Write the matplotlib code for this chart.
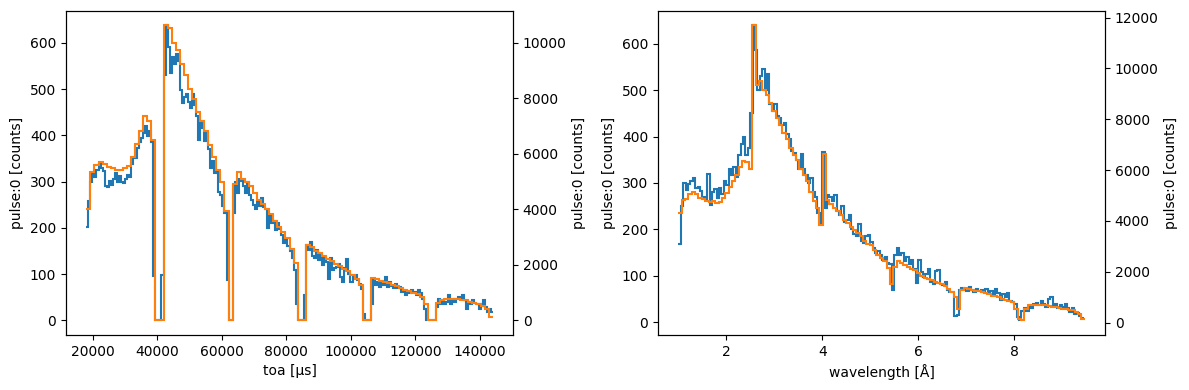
import numpy as np
import matplotlib
matplotlib.use("Agg")
import matplotlib.pyplot as plt

# ---- left panel: time of arrival ----
toa_range = (18000, 144000)

# pulse:0 counts, fine binning (left axis)
toa_counts = [
    201, 258, 300, 318, 310, 325, 338, 330, 322, 290,
    288, 302, 292, 305, 318, 300, 312, 298, 296, 305,
    315, 310, 338, 352, 350, 372, 385, 395, 405, 420,
    398, 410, 385, 95, 0, 0, 0, 97, 530, 638,
    592, 535, 570, 555, 575, 560, 498, 470, 482, 489,
    471, 460, 490, 465, 442, 390, 430, 415, 388, 406,
    371, 330, 345, 318, 322, 278, 270, 248, 232, 86,
    0, 0, 232, 300, 276, 306, 302, 290, 276, 298,
    270, 260, 250, 240, 258, 248, 265, 245, 241, 200,
    228, 210, 215, 195, 210, 198, 184, 168, 173, 160,
    150, 135, 108, 36, 0, 0, 0, 54, 162, 151,
    169, 140, 134, 151, 130, 143, 119, 137, 125, 90,
    134, 108, 112, 115, 122, 93, 83, 112, 133, 101,
    83, 93, 97, 88, 79, 68, 14, 0, 0, 0,
    36, 90, 77, 83, 72, 83, 76, 93, 72, 83,
    75, 70, 79, 69, 72, 61, 65, 54, 62, 58,
    65, 61, 54, 65, 58, 47, 25, 0, 0, 0,
    0, 0, 29, 47, 36, 43, 36, 40, 54, 36,
    47, 40, 45, 50, 47, 54, 43, 25, 40, 36,
    43, 38, 36, 25, 36, 43, 29, 18, 25, 18,
]

# pulse:0 counts, coarse binning (right axis)
toa_counts_coarse = [
    4000, 5330, 5600, 5700, 5630, 5520, 5470, 5430, 5400, 5470,
    5550, 5870, 6350, 6830, 7370, 7170, 6500, 0, 0, 10630,
    10530, 10000, 9750, 9250, 8830, 8330, 7970, 7500, 7170, 6830,
    6300, 5870, 5420, 4970, 3950, 0, 4920, 5330, 5080, 4970,
    4830, 4580, 4330, 4200, 4000, 3830, 3580, 3370, 3170, 2970,
    2580, 2050, 0, 0, 2700, 2630, 2500, 2430, 2330, 2220,
    2120, 2030, 1950, 1830, 1770, 1630, 1470, 1270, 0, 0,
    1530, 1500, 1430, 1380, 1330, 1280, 1220, 1170, 1100, 1050,
    1000, 930, 830, 580, 0, 0, 630, 730, 770, 780,
    770, 750, 730, 720, 670, 620, 580, 520, 420, 130,
]

# ---- right panel: wavelength ----
wav_range_fine = (1.0, 9.45)
wav_range_coarse = (1.0, 9.47)

wav_counts = [
    169, 250, 300, 285, 298, 305, 310, 290, 292, 282,
    270, 265, 320, 253, 280, 288, 268, 290, 276, 305,
    296, 330, 318, 335, 312, 360, 385, 400, 360, 375,
    450, 640, 587, 500, 530, 545, 500, 535, 470, 455,
    470, 445, 440, 425, 430, 405, 395, 370, 365, 350,
    330, 363, 330, 318, 300, 310, 280, 270, 235, 213,
    367, 245, 275, 270, 262, 275, 240, 232, 250, 215,
    220, 231, 200, 190, 185, 212, 175, 170, 185, 188,
    172, 160, 150, 153, 145, 135, 140, 128, 125, 69,
    145, 160, 145, 150, 132, 140, 125, 135, 115, 84,
    133, 108, 97, 104, 115, 86, 82, 110, 112, 82,
    80, 86, 70, 66, 64, 14, 16, 70, 74, 72,
    68, 75, 70, 66, 72, 68, 70, 64, 72, 62,
    68, 60, 72, 62, 48, 60, 55, 62, 45, 43,
    40, 10, 4, 25, 30, 24, 34, 30, 38, 42,
    36, 45, 40, 32, 50, 54, 35, 40, 30, 36,
    33, 38, 30, 22, 30, 18, 20, 14, 9,
]

wav_counts_coarse = [
    4300, 4820, 4870, 5040, 5130, 5050, 4910, 4870, 4800, 4760,
    4800, 4720, 4760, 4910, 5090, 5350, 5580, 5820, 6130, 6370,
    6320, 6040, 11700, 9340, 9520, 9160, 8940, 8640, 8330, 8060,
    7780, 7470, 7230, 6870, 6590, 6410, 6040, 5790, 5580, 5130,
    4800, 4490, 3830, 6650, 4820, 4670, 4500, 4390, 4250, 4030,
    3920, 3750, 3660, 3530, 3410, 3220, 3110, 3040, 2840, 2670,
    2560, 2420, 2160, 1500, 2200, 2420, 2340, 2270, 2200, 2120,
    2050, 1940, 1830, 1760, 1720, 1680, 1610, 1560, 1500, 1430,
    1340, 1210, 1010, 550, 1280, 1350, 1320, 1280, 1260, 1250,
    1210, 1170, 1140, 1060, 1030, 1010, 920, 880, 840, 810,
    550, 150, 90, 550, 680, 700, 700, 710, 700, 680,
    660, 620, 600, 570, 550, 550, 510, 480, 420, 350,
    150,
]

fig = plt.figure(figsize=(11.89, 3.9), dpi=100)
ax1 = fig.add_axes([0.0555, 0.141, 0.376, 0.832])
ax3 = fig.add_axes([0.5534, 0.141, 0.376, 0.832])

# left
e = np.linspace(*toa_range, len(toa_counts) + 1)
ax1.stairs(toa_counts, e, baseline=None, color='C0', linewidth=1.5)
ax1.set_xlabel('toa [µs]')
ax1.set_ylabel('pulse:0 [counts]')
ax2 = ax1.twinx()
e = np.linspace(*toa_range, len(toa_counts_coarse) + 1)
ax2.stairs(toa_counts_coarse, e, baseline=None, color='C1', linewidth=1.5)
ax2.set_ylabel('pulse:0 [counts]')

# right
e = np.linspace(*wav_range_fine, len(wav_counts) + 1)
ax3.stairs(wav_counts, e, baseline=None, color='C0', linewidth=1.5)
ax3.set_xlabel('wavelength [Å]')
ax3.set_ylabel('pulse:0 [counts]')
ax4 = ax3.twinx()
e = np.linspace(*wav_range_coarse, len(wav_counts_coarse) + 1)
ax4.stairs(wav_counts_coarse, e, baseline=None, color='C1', linewidth=1.5)
ax4.set_ylabel('pulse:0 [counts]')

for a in (ax1, ax2, ax3, ax4):
    a.margins(0.05)

fig.savefig('out.png', dpi=100)
